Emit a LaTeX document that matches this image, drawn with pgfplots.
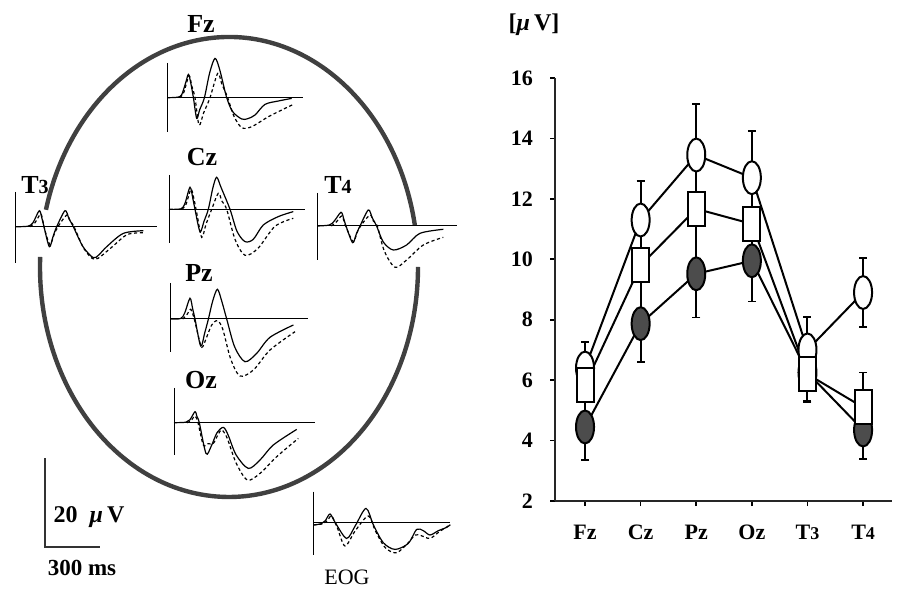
\documentclass[border=0pt]{standalone}
\usepackage{pgfplots}
\pgfplotsset{compat=1.18}
\usepackage{fontspec}
\setmainfont{Liberation Serif}
\begin{document}
\begin{tikzpicture}
\path[use as bounding box] (0,0) rectangle (451.5pt,294.5pt);
\pgfplotsset{
 wave/.style={scale only axis, width=71pt, height=52.5pt, xmin=0,xmax=142,ymin=-60,ymax=45, hide axis, clip=false, anchor=south west},
 sol/.style={black, line width=0.6pt, smooth, tension=0.5, no marks},
 das/.style={black, line width=0.6pt, dash pattern=on 1.6pt off 1.3pt, smooth, tension=0.5, no marks},
 ax/.style={black, line width=0.5pt, no marks},
}
% head outline
\draw[black!75, line width=2.2pt] (207.42pt,181.96pt) arc[start angle=10.5, end angle=165.6, x radius=94.5pt, y radius=115pt];
\draw[black!75, line width=2.2pt] (20.09pt,166.02pt) arc[start angle=177.5, end angle=360, x radius=94.5pt, y radius=115pt];
% scale bar
\draw[black!80, line width=1pt] (22.5pt,65.5pt) -- (22.5pt,21pt) -- (50pt,21pt);
\node[font=\fontsize{12}{14}\selectfont\bfseries] at (44.5pt,36pt) {20\enspace\textit{μ}\,V};
\node[font=\fontsize{11.5}{14}\selectfont\bfseries] at (41pt,10.5pt) {300 ms};
% labels
\node[font=\fontsize{13}{15}\selectfont\bfseries] at (100.5pt,282.75pt) {Fz};
\node[font=\fontsize{13}{15}\selectfont\bfseries] at (101pt,216pt) {Cz};
\node[font=\fontsize{13}{15}\selectfont\bfseries] at (17.5pt,202pt) {T{\fontsize{10}{12}\selectfont 3}};
\node[font=\fontsize{13}{15}\selectfont\bfseries] at (169pt,202pt) {T{\fontsize{10}{12}\selectfont 4}};
\node[font=\fontsize{13}{15}\selectfont\bfseries] at (99.5pt,158pt) {Pz};
\node[font=\fontsize{13}{15}\selectfont\bfseries] at (100.5pt,104.5pt) {Oz};
\node[font=\fontsize{11}{13}\selectfont] at (173.5pt,6pt) {EOG};
\node[font=\fontsize{12}{14}\selectfont\bfseries] at (267pt,282pt) {[\textit{μ}\,V]};

% Fz
\begin{axis}[wave, at={(83.85pt,215.65pt)}]
\addplot[ax] coordinates {(0,34.7) (0,-34.3)};
\addplot[ax] coordinates {(0,0) (135,0)};
\addplot[sol] coordinates {(0,0) (10,0.5) (14,3) (18,15) (20.7,23.3) (23,15) (25.7,0) (29,-20.7) (32,-12) (36.7,0) (42,25) (47.3,39.3) (52,28) (59,0) (65,-14) (74,-21.3) (80,-21) (87.3,-17.3) (97.3,-6.7) (110.7,-3.3) (124,-0.7)};
\addplot[das] coordinates {(12,0) (16,5) (21.3,22) (24,12) (27.3,0) (31.3,-27.3) (36,-15) (42.3,0) (50,24.3) (54,14) (60,0) (66,-18) (74,-30) (84,-29) (100.7,-19) (117.3,-10.7) (125.7,-6.7)};
\end{axis}
% Cz
\begin{axis}[wave, at={(84.5pt,159.85pt)}]
\addplot[ax] coordinates {(0,34.3) (0,-33.7)};
\addplot[ax] coordinates {(0,0) (136,0)};
\addplot[sol] coordinates {(0,0) (12,0.5) (16,6) (21,22) (24,10) (26,0) (31,-22.3) (35,-12) (39.3,0) (44,22) (47.7,32) (52,22) (61,0) (68,-22) (76,-32.3) (84.3,-30) (94.3,-15.7) (109.3,-7.3) (124.3,-2.3)};
\addplot[das] coordinates {(13,0) (17,5) (22,20) (25,10) (28,-5) (32.7,-28) (37,-15) (42.7,0) (49.3,16) (53,8) (57.7,0) (66,-30) (76,-46) (89,-39) (106,-17) (124.3,-9)};
\end{axis}
% T3
\begin{axis}[wave, at={(8pt,151.15pt)}]
\addplot[ax] coordinates {(0,34.7) (0,-36.3)};
\addplot[ax] coordinates {(0,0) (140.7,0)};
\addplot[sol] coordinates {(0,0) (12,0.5) (17,4) (23.3,16) (26,8) (28,0) (33.3,-20) (37,-10) (40.7,0) (49,16) (53,8) (57.3,0) (67,-20) (77.3,-31) (83,-28) (90.7,-20) (107.3,-6.7) (127.3,-4)};
\addplot[das] coordinates {(14,0) (19,4) (24.7,12.7) (27,5) (29,-4) (34,-18) (38,-8) (42,0) (50.7,11.7) (54,6) (58,0) (68,-22) (79,-32.7) (94,-22) (111,-8) (127.3,-6)};
\end{axis}
% T4
\begin{axis}[wave, at={(158.65pt,151.5pt)}]
\addplot[ax] coordinates {(0,33) (0,-34)};
\addplot[ax] coordinates {(0,0) (139.4,0)};
\addplot[sol] coordinates {(0,0) (12,1) (17,5) (23.7,13.7) (26.5,7) (28.7,0) (35.3,-16.7) (39,-8) (42.7,0) (51,16) (55,8) (59.3,0) (66,-16) (76,-24) (89.3,-19) (102.7,-7.3) (126,-3.3)};
\addplot[das] coordinates {(14,0) (19,4) (24.3,10) (27,4) (30,-4) (36,-15.7) (40,-6) (44,1) (52.7,11) (56,5) (60,0) (67,-25) (77.7,-41.3) (89.3,-34) (106,-19) (126,-11.3)};
\end{axis}
% Pz
\begin{axis}[wave, at={(85.35pt,105pt)}]
\addplot[ax] coordinates {(0,36) (0,-33)};
\addplot[ax] coordinates {(0,0) (137.3,0)};
\addplot[sol] coordinates {(0,0) (10,0.5) (14,6) (19.3,20.7) (22,10) (24.3,0) (30,-27) (34,-14) (37.7,0) (42,18) (46.7,29.7) (51,18) (56,0) (64,-28) (74.3,-42.7) (86,-34.3) (99.3,-18.3) (122.7,-6)};
\addplot[das] coordinates {(12,0) (16,4) (20,9.7) (23,2) (26,-10) (31,-28.3) (36,-18) (41,-6) (46.7,-1.7) (52,-10) (60,-40) (69.3,-57) (82.7,-51) (99.3,-31) (124.3,-12.7)};
\end{axis}
% Oz
\begin{axis}[wave, at={(87pt,53.15pt)}]
\addplot[ax] coordinates {(0,34.7) (0,-32.3)};
\addplot[ax] coordinates {(0,0) (141,0)};
\addplot[sol] coordinates {(0,0) (12,0.5) (16,3) (21,11) (23,6) (25.3,0) (32,-30.7) (37,-24) (43,-10) (49.3,-4.7) (54,-12) (62,-32) (74.3,-45.7) (86,-37.3) (99.3,-22.3) (122.7,-6.7)};
\addplot[das] coordinates {(13,0) (17,2) (21,6.7) (24,0) (29.3,-22.3) (34,-21) (39.3,-20.7) (44,-12) (47.7,-7.3) (53,-15) (62,-40) (73.3,-57.3) (86,-50.7) (102.7,-34) (124.3,-15.7)};
\end{axis}
% EOG
\begin{axis}[wave, at={(156.65pt,3.15pt)}]
\addplot[ax] coordinates {(0,31) (0,-32.3)};
\addplot[ax, line width=0.4pt] coordinates {(0,0) (136.7,0)};
\addplot[sol] coordinates {(0,-2.3) (8,-1) (12,2) (16.7,8.7) (22,0) (33.3,-15.7) (42,-3) (52.7,14.3) (60,-2) (70,-20) (81.7,-26.7) (95,-20.7) (103.3,-6.7) (110,-8) (116.7,-12.3) (125,-8) (133.3,-4.7) (137,-2)};
\addplot[das] coordinates {(0,-2.3) (10,-1) (14,2) (18.3,6.7) (24,-5) (31.7,-23.3) (42,-8) (55,6.7) (62,-8) (72,-25) (83.3,-30) (95,-20) (101.7,-12.3) (108,-13) (116.7,-15.7) (126,-9) (135,-3.3)};
\end{axis}

% right chart
\begin{axis}[
  at={(277.5pt,44pt)}, anchor=south west,
  scale only axis, width=168.5pt, height=211.5pt,
  xmin=-0.54, xmax=5.52, ymin=2, ymax=16,
  axis x line=bottom, axis y line=left,
  axis line style={-, line width=0.9pt, black!85},
  tick align=outside, major tick length=2.5pt,
  tick style={line width=0.8pt, black},
  xtick={0,1,2,3,4,5},
  xticklabels={Fz,Cz,Pz,Oz,{T{\fontsize{9}{10}\selectfont 3}},{T{\fontsize{9}{10}\selectfont 4}}},
  ytick={2,4,...,16},
  /pgf/number format/assume math mode=true,
  ticklabel style={font=\fontsize{11}{13}\selectfont\bfseries},
  yticklabel style={xshift=-5pt},
  xticklabel style={yshift=-6pt},
  clip=false,
  errstyle/.style={error bars/.cd, y dir=both, y explicit,
    error bar style={line width=1pt, black},
    error mark=-,
    error mark options={rotate=90, mark size=2pt, line width=0.9pt, black}},
]
% square-series error bars (drawn beneath all markers)
\addplot[black, forget plot, only marks, mark=none, errstyle]
  coordinates {(0,5.85) += (0,0.55) -= (0,1.4) (1,9.8) += (0,1.5) -= (0,1.93) (2,11.67) += (0,1.78) -= (0,2.15) (3,11.17) += (0,1.53) -= (0,1.22) (4,6.2) += (0,0.8) -= (0,0.93) (5,5.1) += (0,1.15) -= (0,0.75)};
% filled ellipses
\addplot[black, line width=1pt, mark=*, mark size=4.5pt,
  mark options={fill=black!70, draw=black, line width=1pt, yscale=1.83}, errstyle]
  coordinates {(0,4.45) += (0,1.4) -= (0,1.1) (1,7.87) += (0,1.93) -= (0,1.27) (2,9.52) += (0,2.15) -= (0,1.45) (3,9.95) += (0,1.22) -= (0,1.35) (4,6.25) += (0,0.0) -= (0,0.95) (5,4.35) += (0,0.75) -= (0,0.95)};
% open ellipses
\addplot[black, line width=1pt, mark=*, mark size=4.5pt,
  mark options={fill=white, draw=black, line width=1pt, yscale=1.83}, errstyle]
  coordinates {(0,6.4) += (0,0.85) -= (0,0.55) (1,11.3) += (0,1.3) -= (0,1.5) (2,13.45) += (0,1.7) -= (0,1.78) (3,12.7) += (0,1.55) -= (0,1.53) (4,7.0) += (0,1.1) -= (0,0.8) (5,8.9) += (0,1.15) -= (0,1.15)};
% open rectangles
\addplot[black, line width=1pt, mark=square*, mark size=4.25pt,
  mark options={fill=white, draw=black, line width=1pt, yscale=2}]
  coordinates {(0,5.85) (1,9.8) (2,11.67) (3,11.17) (4,6.2) (5,5.1)};
\end{axis}
\end{tikzpicture}
\end{document}
